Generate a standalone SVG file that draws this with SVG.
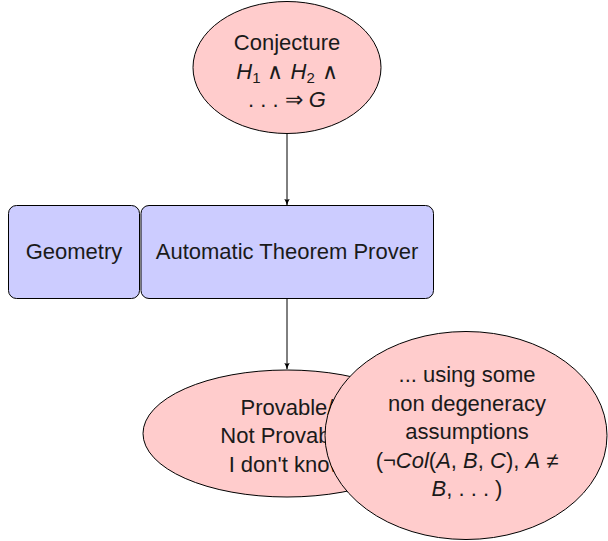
<svg xmlns="http://www.w3.org/2000/svg" width="608" height="541" viewBox="0 0 608 541">
  <style>
    text { font-family: "Liberation Sans", "DejaVu Sans", sans-serif; font-size: 22px; fill: #1a1a1a; text-anchor: middle; }
    .m { font-style: italic; }
    .sub { font-size: 15px; }
    .op { font-family: "DejaVu Sans", sans-serif; font-size: 22px; font-weight: 300; }
    .pink { fill: #ffcccc; stroke: #000; stroke-width: 1; }
    .blue { fill: #ccccff; stroke: #000; stroke-width: 1; }
    .edge { stroke: #000; stroke-width: 1; fill: none; marker-end: url(#tip); }
  </style>
  <defs>
    <marker id="tip" viewBox="0 0 10 10" refX="9" refY="5" markerWidth="7" markerHeight="7" markerUnits="userSpaceOnUse" orient="auto">
      <path d="M0,1 Q5,4 10,5 Q5,6 0,9 Q3,5 0,1 Z" fill="#000"/>
    </marker>
  </defs>

  <!-- connectors -->
  <g id="edges">
    <line class="edge" x1="287" y1="134" x2="287" y2="205"/>
    <line class="edge" x1="287" y1="299" x2="287" y2="369"/>
  </g>

  <!-- conjecture -->
  <g id="conjecture">
    <ellipse class="pink" cx="287" cy="67.5" rx="94" ry="66"/>
    <text x="287" y="50">Conjecture</text>
    <text x="287" y="79"><tspan class="m">H</tspan><tspan class="sub" dy="4">1</tspan><tspan class="op" dy="-4"> ∧ </tspan><tspan class="m">H</tspan><tspan class="sub" dy="4">2</tspan><tspan class="op" dy="-4"> ∧</tspan></text>
    <text x="287" y="107">. . . <tspan class="op">⇒</tspan> <tspan class="m">G</tspan></text>
  </g>

  <!-- geometry box -->
  <g id="geometry">
    <rect class="blue" x="8.5" y="205.5" width="131" height="93" rx="8"/>
    <text x="74" y="259">Geometry</text>
  </g>

  <!-- prover box -->
  <g id="prover">
    <rect class="blue" x="141" y="205.5" width="292.5" height="93" rx="8"/>
    <text x="287" y="259">Automatic Theorem Prover</text>
  </g>

  <!-- result -->
  <g id="result">
    <ellipse class="pink" cx="287" cy="433.5" rx="144" ry="63.5"/>
    <text x="287" y="415">Provable/</text>
    <text x="287" y="443">Not Provable/</text>
    <text x="287" y="472">I don't know</text>
  </g>

  <!-- side note on assumptions -->
  <g id="assumptions">
    <ellipse class="pink" cx="466" cy="435.5" rx="141" ry="104"/>
    <text x="467" y="382">...  using some</text>
    <text x="467" y="411">non degeneracy</text>
    <text x="467" y="439">assumptions</text>
    <text x="467" y="468">(¬<tspan class="m">Col</tspan>(<tspan class="m">A</tspan>, <tspan class="m">B</tspan>, <tspan class="m">C</tspan>), <tspan class="m">A</tspan> ≠</text>
    <text x="467" y="496"><tspan class="m">B</tspan>, . . . )</text>
  </g>
</svg>
